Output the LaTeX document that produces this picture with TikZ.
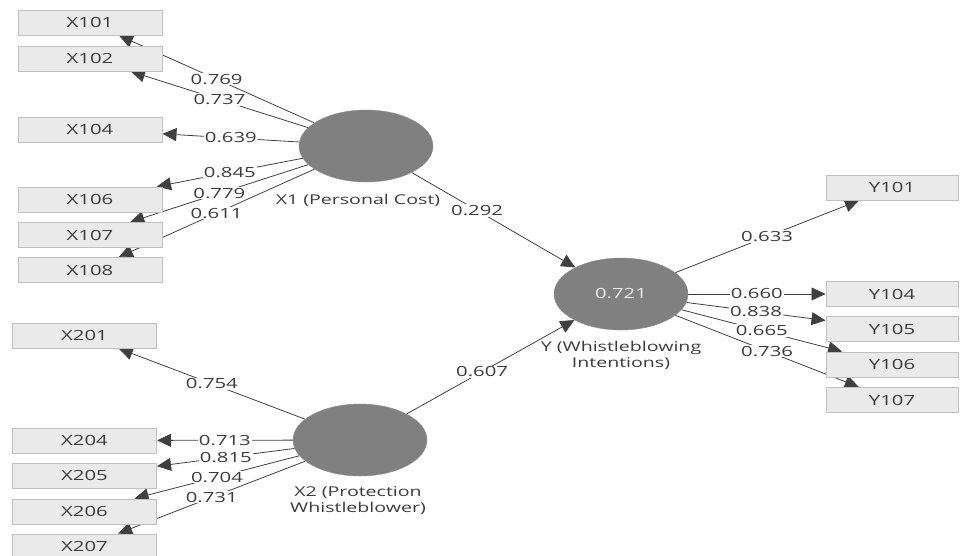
\documentclass[tikz,border=0pt]{standalone}
\usepackage{fontspec}
\newfontfamily\plsfont[FakeStretch=1.45]{Open Sans}
\usetikzlibrary{arrows.meta, shapes.geometric}
\pgfdeclarelayer{bg}
\pgfsetlayers{bg,main}
\definecolor{boxfill}{RGB}{234,234,234}
\definecolor{boxline}{RGB}{192,192,192}
\definecolor{lvfill}{RGB}{128,128,128}
\definecolor{plstext}{RGB}{60,60,60}

\begin{document}
\begin{tikzpicture}[x=1pt, y=-1pt,
    ind/.style={draw=boxline, fill=boxfill, line width=1pt, minimum width=144pt,
      minimum height=25pt, inner sep=0pt, text=plstext,
      font=\plsfont\fontsize{14}{16}\selectfont},
    indy/.style={ind, minimum width=132pt},
    lv/.style={ellipse, fill=lvfill, draw=lvfill!90, minimum width=134pt,
      minimum height=72pt, inner sep=0pt, text=white!92!black,
      font=\plsfont\fontsize{14}{16}\selectfont},
    lvname/.style={align=center, text=plstext, font=\plsfont\fontsize{13.5}{16}\selectfont},
    path/.style={draw=black!75, line width=0.8pt, -{Triangle[length=14pt,width=13pt]}},
    coef/.style={fill=white, inner sep=1pt, text=plstext,
      font=\plsfont\fontsize{14}{16}\selectfont}]

    \useasboundingbox (0,0) rectangle (960,555);
    \clip (0,0) rectangle (960,555);

    % constructs
    \node[lv] (x1) at (366,146) {};
    \node[lv] (x2) at (360,440) {};
    \node[lv] (y) at (621,294) {0.721};

    \node[lvname] (x1name) at (358,200) {X1 (Personal Cost)};
    \node[lvname] (x2name) at (358,501) {X2 (Protection\\Whistleblower)};
    \node[lvname] (yname) at (621,355) {Y (Whistleblowing\\Intentions)};

    % indicators
    \node[ind] (x101) at (90,22.5) {X101};
    \node[ind] (x102) at (90,58.5) {X102};
    \node[ind] (x104) at (90,129.5) {X104};
    \node[ind] (x106) at (90,199.5) {X106};
    \node[ind] (x107) at (90,235) {X107};
    \node[ind] (x108) at (90,270) {X108};

    \node[ind] (x201) at (84.5,335.5) {X201};
    \node[ind] (x204) at (84.5,440.5) {X204};
    \node[ind] (x205) at (84.5,475.5) {X205};
    \node[ind] (x206) at (84.5,511.5) {X206};
    \node[ind] (x207) at (84.5,546.5) {X207};

    \node[indy] (y101) at (892,187.5) {Y101};
    \node[indy] (y104) at (892,294) {Y104};
    \node[indy] (y105) at (892,329) {Y105};
    \node[indy] (y106) at (892,364.5) {Y106};
    \node[indy] (y107) at (892,400) {Y107};

    \begin{pgfonlayer}{bg}
        % outer loadings
        \draw[path] (x1) -- node[coef] {0.769} (x101);
        \draw[path] (x1) -- node[coef] {0.737} (x102);
        \draw[path] (x1) -- node[coef] {0.639} (x104);
        \draw[path] (x1) -- node[coef] {0.845} (x106);
        \draw[path] (x1) -- node[coef] {0.779} (x107);
        \draw[path] (x1) -- node[coef] {0.611} (x108);

        \draw[path] (x2) -- node[coef] {0.754} (x201);
        \draw[path] (x2) -- node[coef] {0.713} (x204);
        \draw[path] (x2) -- node[coef] {0.815} (x205);
        \draw[path] (x2) -- node[coef] {0.704} (x206);
        \draw[path] (x2) -- node[coef] {0.731} (x207);

        \draw[path] (y) -- node[coef] {0.633} (y101);
        \draw[path] (y) -- node[coef] {0.660} (y104);
        \draw[path] (y) -- node[coef] {0.838} (y105);
        \draw[path] (y) -- node[coef] {0.665} (y106);
        \draw[path] (y) -- node[coef] {0.736} (y107);

        % inner model
        \draw[path] (x1) -- node[coef, pos=0.4] {0.292} (y);
        \draw[path] (x2) -- node[coef, pos=0.45] {0.607} (y);
    \end{pgfonlayer}

\end{tikzpicture}
\end{document}
